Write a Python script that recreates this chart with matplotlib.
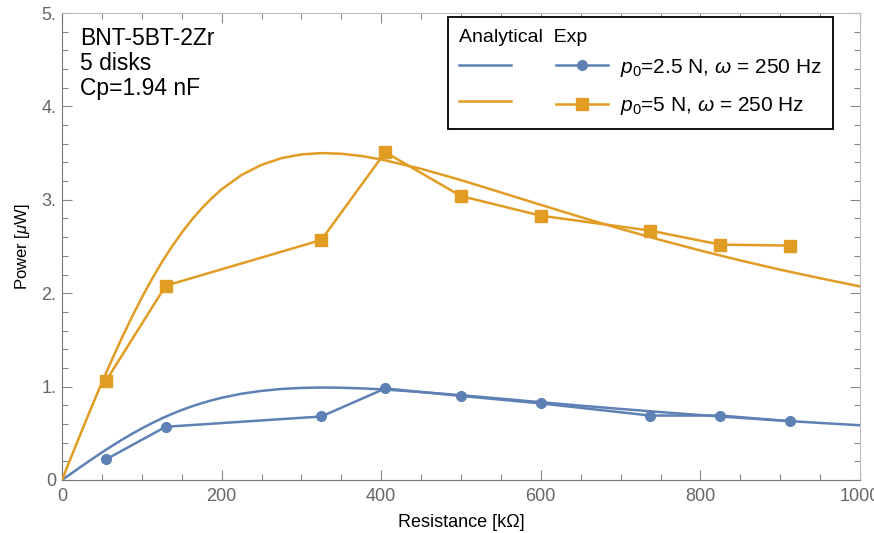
import numpy as np
import matplotlib
matplotlib.use("Agg")
import matplotlib.pyplot as plt
from matplotlib.lines import Line2D
from matplotlib.ticker import MultipleLocator, FuncFormatter

plt.rcParams['font.family'] = ['Liberation Sans', 'DejaVu Sans']
plt.rcParams['mathtext.fontset'] = 'custom'
plt.rcParams['mathtext.rm'] = 'Liberation Sans'
plt.rcParams['mathtext.it'] = 'Liberation Sans:italic'

# experimental points (resistance in kOhm, power in uW)
exp_r = [55, 130, 325, 405, 500, 600, 737, 825, 912]
exp_low = [0.22, 0.57, 0.68, 0.98, 0.90, 0.82, 0.69, 0.69, 0.63]
exp_high = [1.06, 2.08, 2.57, 3.51, 3.04, 2.83, 2.67, 2.52, 2.51]

# analytical curves
ana_r = [0, 10, 25, 37.5, 50, 62.5, 75, 87.5, 100, 112.5, 125, 137.5, 150, 162.5,
         175, 187.5, 200, 225, 250, 275, 300, 325, 350, 375, 400, 450, 500, 550,
         600, 650, 700, 750, 800, 850, 900, 950, 1000]
ana_low = [0, 0.060, 0.150, 0.223, 0.295, 0.364, 0.430, 0.493, 0.552, 0.608,
           0.659, 0.706, 0.749, 0.788, 0.822, 0.853, 0.880, 0.924, 0.954, 0.975,
           0.986, 0.990, 0.988, 0.981, 0.971, 0.942, 0.908, 0.871, 0.833, 0.796,
           0.761, 0.727, 0.695, 0.665, 0.637, 0.611, 0.586]
ana_high = [0, 0.214, 0.530, 0.790, 1.043, 1.287, 1.521, 1.743, 1.953, 2.148,
            2.330, 2.496, 2.647, 2.785, 2.907, 3.016, 3.112, 3.266, 3.374, 3.446,
            3.486, 3.500, 3.493, 3.469, 3.432, 3.332, 3.211, 3.079, 2.946, 2.815,
            2.689, 2.570, 2.457, 2.351, 2.252, 2.160, 2.073]

labels = [r'$p_0$=2.5 N, $\omega$ = 250 Hz', r'$p_0$=5 N, $\omega$ = 250 Hz']
blue = '#5E81B5'
orange = '#E19C24'

fig = plt.figure(figsize=(8.74, 5.33), dpi=100)
ax = fig.add_axes([62 / 874, 1 - 480 / 533, 798 / 874, 467 / 533])

ax.plot(ana_r, ana_low, color=blue, lw=1.8, zorder=3)
ax.plot(ana_r, ana_high, color=orange, lw=1.8, zorder=3)
ax.plot(exp_r, exp_low, color=blue, lw=1.8, marker='o', ms=7, zorder=4)
ax.plot(exp_r, exp_high, color=orange, lw=1.8, marker='s', ms=9, zorder=4)

ax.set_xlim(0, 1000)
ax.set_ylim(0, 5)
ax.xaxis.set_major_locator(MultipleLocator(200))
ax.xaxis.set_minor_locator(MultipleLocator(50))
ax.yaxis.set_major_locator(MultipleLocator(1))
ax.yaxis.set_minor_locator(MultipleLocator(0.2))
ax.yaxis.set_major_formatter(FuncFormatter(lambda v, p: '0' if abs(v) < 1e-9 else f'{int(round(v))}.'))
ax.tick_params(which='both', direction='in', top=True, right=True,
               colors='#888888', labelcolor='#666666', labelsize=13)
ax.tick_params(which='major', length=7, width=0.8)
ax.tick_params(which='minor', length=4, width=0.8)
ax.tick_params(axis='x', pad=6)
ax.tick_params(axis='y', pad=4)
for side in ['left', 'bottom']:
    ax.spines[side].set_color('#777777')
for side in ['top', 'right']:
    ax.spines[side].set_color('#bbbbbb')

ax.set_xlabel('Resistance [k\u03a9]', fontsize=13, labelpad=6)
ax.set_ylabel('Power [$\\mu$W]', fontsize=12, labelpad=7)

ax.text(0.023, 0.97, 'BNT-5BT-2Zr\n5 disks\nCp=1.94 nF', transform=ax.transAxes,
        fontsize=16.5, va='top', ha='left', linespacing=1.12)

h_ana = [Line2D([], [], color=blue, lw=1.8), Line2D([], [], color=orange, lw=1.8)]
h_exp = [Line2D([], [], color=blue, lw=1.8, marker='o', ms=7),
         Line2D([], [], color=orange, lw=1.8, marker='s', ms=9)]
leg = ax.legend(h_ana + h_exp, ['', ''] + labels, ncol=2, loc='upper right',
                bbox_to_anchor=(0.966, 0.991), borderaxespad=0,
                title='Analytical  Exp', alignment='left',
                fontsize=15, title_fontsize=14,
                handlelength=2.5, handletextpad=0.55, columnspacing=1.6,
                labelspacing=0.8, fancybox=False, edgecolor='black',
                borderpad=0.55, framealpha=1)
leg.get_frame().set_linewidth(1.3)
leg._legend_box.sep = 8

fig.savefig('out.png', dpi=100)
